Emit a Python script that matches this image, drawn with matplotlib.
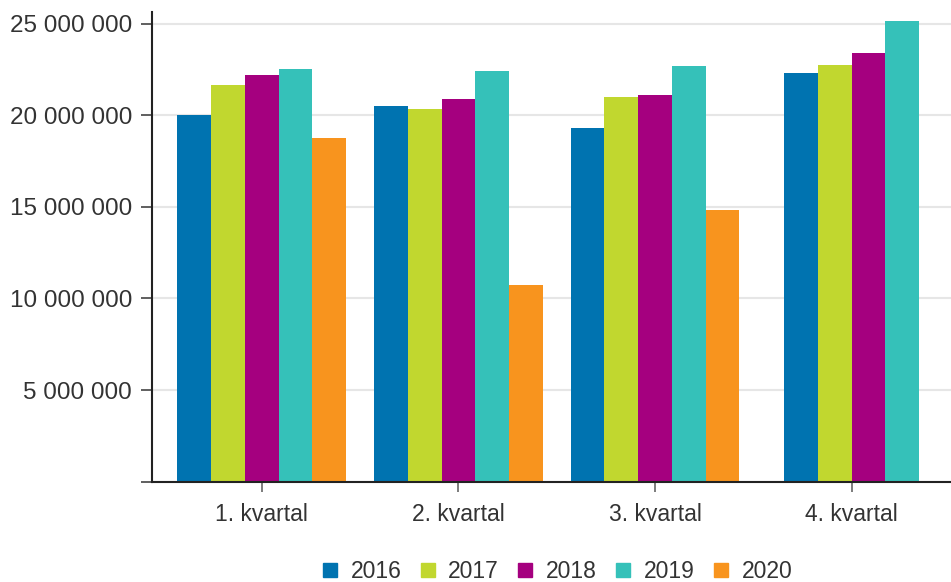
import matplotlib
matplotlib.use("Agg")
import matplotlib.pyplot as plt
from matplotlib.lines import Line2D
from matplotlib.ticker import FuncFormatter
import numpy as np

plt.rcParams['font.family'] = ['Liberation Sans', 'DejaVu Sans']

# Data
quarters = ["1. kvartal", "2. kvartal", "3. kvartal", "4. kvartal"]
years = ["2016", "2017", "2018", "2019", "2020"]
v2016 = [20.0e6, 20.5e6, 19.3e6, 22.3e6]
v2017 = [21.65e6, 20.33e6, 21.0e6, 22.73e6]
v2018 = [22.2e6, 20.87e6, 21.09e6, 23.38e6]
v2019 = [22.55e6, 22.42e6, 22.67e6, 25.13e6]
v2020 = [18.78e6, 10.74e6, 14.83e6, None]
series = [v2016, v2017, v2018, v2019, v2020]
colors = ["#0073b0", "#c1d72f", "#a5007f", "#35c1b9", "#f8941e"]

fig = plt.figure(figsize=(9.51, 5.82), dpi=100)
ax = fig.add_axes([0.1595, 0.1723, 0.8405, 0.8076])

width = 0.1715
x = np.arange(len(quarters))
for qi in range(len(quarters)):
    present = [si for si, s in enumerate(series) if s[qi] is not None]
    n = len(present)
    for k, si in enumerate(present):
        off = (k - (n - 1) / 2) * width
        ax.bar(x[qi] + off, series[si][qi], width=width, color=colors[si],
               linewidth=0, zorder=3)

ax.set_xlim(-0.56, 3.505)
ax.set_ylim(0, 25.65e6)
ax.set_yticks([0, 5e6, 10e6, 15e6, 20e6, 25e6])
ax.yaxis.set_major_formatter(FuncFormatter(
    lambda v, p: "" if v == 0 else f"{v:,.0f}".replace(",", " ")))
ax.set_xticks(x)
ax.set_xticklabels(quarters)

ax.grid(axis='y', color='#e6e6e6', linewidth=1.5, zorder=0)
for side in ['top', 'right']:
    ax.spines[side].set_visible(False)
for side in ['left', 'bottom']:
    ax.spines[side].set_color('#222222')
    ax.spines[side].set_linewidth(1.5)
    ax.spines[side].set_zorder(4)

ax.tick_params(axis='y', length=8, width=1.2, color='#444444', pad=6,
               labelsize=17.5, labelcolor='#333333')
ax.tick_params(axis='x', length=7, width=1.2, color='#666666', pad=8,
               labelsize=16.5, labelcolor='#333333')

handles = [Line2D([], [], marker='s', linestyle='', markersize=9.5,
                  color=c, label=y) for c, y in zip(colors, years)]
ax.legend(handles=handles, loc='center', bbox_to_anchor=(0.508, -0.19),
          ncol=5, frameon=False, fontsize=16.5, handlelength=0.6,
          handletextpad=0.6, columnspacing=0.85, labelcolor='#333333')

fig.savefig("out.png", dpi=100)
